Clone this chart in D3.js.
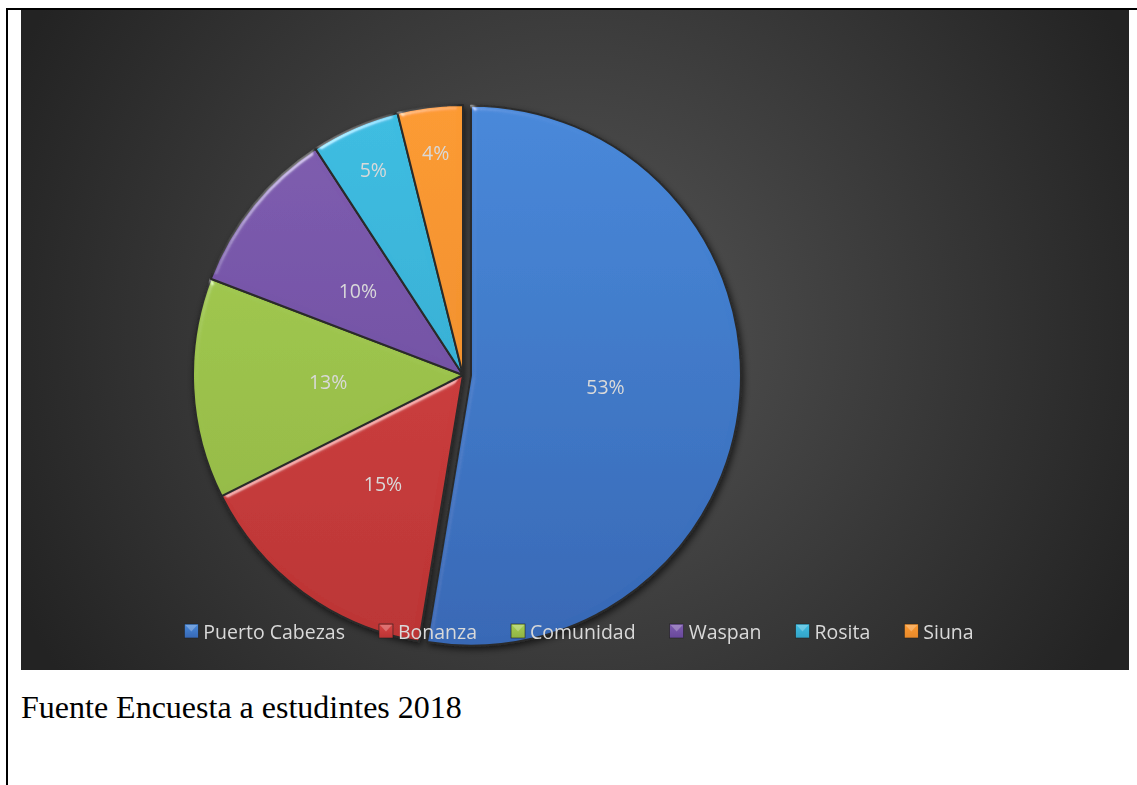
<!DOCTYPE html>
<html><head><meta charset="utf-8">
<script src="https://cdn.jsdelivr.net/npm/d3@7/dist/d3.min.js"></script>
<style>html,body{margin:0;padding:0;background:#fff;overflow:hidden}</style>
</head><body>
<svg id="chart" width="1137" height="785"></svg>
<script>
const categories = ["Puerto Cabezas","Bonanza","Comunidad","Waspan","Rosita","Siuna"];
const values = [52.6, 15.0, 13.2, 10.0, 5.3, 3.9];
const labels = ["53%","15%","13%","10%","5%","4%"];
const colorsTop = ["#4889da","#d94444","#a6cf52","#7f5db0","#3ebde2","#fc9a32"];
const colorsBot = ["#3768b5","#bb3434","#90b444","#68489b","#33a4c8","#e8892a"];
const caption = "Fuente Encuesta a estudintes 2018";

const svg = d3.select("#chart");
const defs = svg.append("defs");

const bg = defs.append("radialGradient").attr("id","bg")
  .attr("gradientUnits","userSpaceOnUse").attr("cx",575).attr("cy",330).attr("r",620);
bg.append("stop").attr("offset","0%").attr("stop-color","#555555");
bg.append("stop").attr("offset","100%").attr("stop-color","#232323");

svg.append("rect").attr("x",6).attr("y",8).attr("width",2).attr("height",777).attr("fill","#000");
svg.append("rect").attr("x",6).attr("y",8).attr("width",1131).attr("height",2).attr("fill","#000");
svg.append("rect").attr("x",21).attr("y",10).attr("width",1108).attr("height",660).attr("fill","url(#bg)");

const sh = defs.append("filter").attr("id","shadow").attr("x","-20%").attr("y","-20%").attr("width","140%").attr("height","140%");
sh.append("feGaussianBlur").attr("in","SourceAlpha").attr("stdDeviation",3).attr("result","b");
sh.append("feOffset").attr("in","b").attr("dx",2).attr("dy",3).attr("result","o");
sh.append("feComponentTransfer").attr("in","o").attr("result","o2")
  .append("feFuncA").attr("type","linear").attr("slope",0.6);
const m = sh.append("feMerge");
m.append("feMergeNode").attr("in","o2");
m.append("feMergeNode").attr("in","SourceGraphic");

const bev = defs.append("filter").attr("id","bevel").attr("x","-10%").attr("y","-10%").attr("width","120%").attr("height","120%");
bev.append("feGaussianBlur").attr("in","SourceAlpha").attr("stdDeviation",3).attr("result","blur");
const spec = bev.append("feSpecularLighting").attr("in","blur").attr("surfaceScale",4)
  .attr("specularConstant",0.8).attr("specularExponent",40).attr("lighting-color","#ffffff").attr("result","spec");
spec.append("feDistantLight").attr("azimuth",235).attr("elevation",30);
bev.append("feComposite").attr("in","spec").attr("in2","SourceAlpha").attr("operator","in").attr("result","specIn");
bev.append("feComposite").attr("in","SourceGraphic").attr("in2","specIn").attr("operator","arithmetic")
  .attr("k1",0).attr("k2",1).attr("k3",0.5).attr("k4",0);

const cx = 463, cy = 375, R = 270;
const pie = d3.pie().sort(null).value(d => d)(values);
const arc = d3.arc().innerRadius(0).outerRadius(R);

categories.forEach((c,i) => {
  const g = defs.append("linearGradient").attr("id","g"+i)
    .attr("gradientUnits","userSpaceOnUse").attr("x1",0).attr("y1",-R).attr("x2",0).attr("y2",R);
  g.append("stop").attr("offset","0%").attr("stop-color",colorsTop[i]);
  g.append("stop").attr("offset","100%").attr("stop-color",colorsBot[i]);
});

const explode = [8,0,0,0,0,0];
const pg = svg.append("g").attr("transform",`translate(${cx},${cy})`).attr("filter","url(#shadow)");
pie.forEach((p,i) => {
  const mid = (p.startAngle+p.endAngle)/2;
  const dx = Math.sin(mid)*explode[i], dy = -Math.cos(mid)*explode[i];
  pg.append("path").attr("d",arc(p)).attr("transform",`translate(${dx},${dy})`)
    .attr("fill",`url(#g${i})`).attr("stroke","#2a2a2a").attr("stroke-width",2)
    .attr("stroke-linejoin","round").attr("filter","url(#bevel)");
});

const lg = svg.append("g").attr("transform",`translate(${cx},${cy})`);
pie.forEach((p,i) => {
  const mid = (p.startAngle+p.endAngle)/2;
  const rr = values[i] < 7 ? 0.83*R : 0.5*R;
  const off = explode[i];
  lg.append("text").attr("x",Math.sin(mid)*(rr+off)).attr("y",-Math.cos(mid)*(rr+off))
    .attr("text-anchor","middle").attr("dominant-baseline","central")
    .attr("font-family","'Open Sans', sans-serif").attr("font-size",19.5).attr("fill","#d9d9d9")
    .text(labels[i]);
});

const leg = svg.append("g");
const fs = 19.5;
const gap = 34;
const items = [];
let x = 0;
categories.forEach((c,i) => {
  const gi = leg.append("g");
  const gr = defs.append("linearGradient").attr("id","lm"+i).attr("x1",0).attr("y1",0).attr("x2",0).attr("y2",1);
  gr.append("stop").attr("offset","0%").attr("stop-color",colorsTop[i]);
  gr.append("stop").attr("offset","100%").attr("stop-color",colorsBot[i]);
  gi.append("rect").attr("x",0).attr("y",-7).attr("width",14).attr("height",14)
    .attr("fill",`url(#lm${i})`).attr("stroke","#222").attr("stroke-width",0.6);
  gi.append("path").attr("d","M1,-6 L13,-6 L7,0.5 Z").attr("fill","#ffffff").attr("opacity",0.25);
  const t = gi.append("text").attr("x",19).attr("y",0).attr("dominant-baseline","central")
    .attr("font-family","'Open Sans', sans-serif").attr("font-size",fs).attr("fill","#d9d9d9").text(c);
  const w = 19 + t.node().getComputedTextLength();
  items.push({gi, x});
  x += w + gap;
});
const total = x - gap;
const startX = 579 - total/2;
items.forEach(it => it.gi.attr("transform",`translate(${startX+it.x},631)`));

svg.append("text").attr("x",21).attr("y",718)
  .attr("font-family","'Liberation Serif','Times New Roman',serif").attr("font-size",32).attr("fill","#000")
  .text(caption);
</script>
</body></html>
